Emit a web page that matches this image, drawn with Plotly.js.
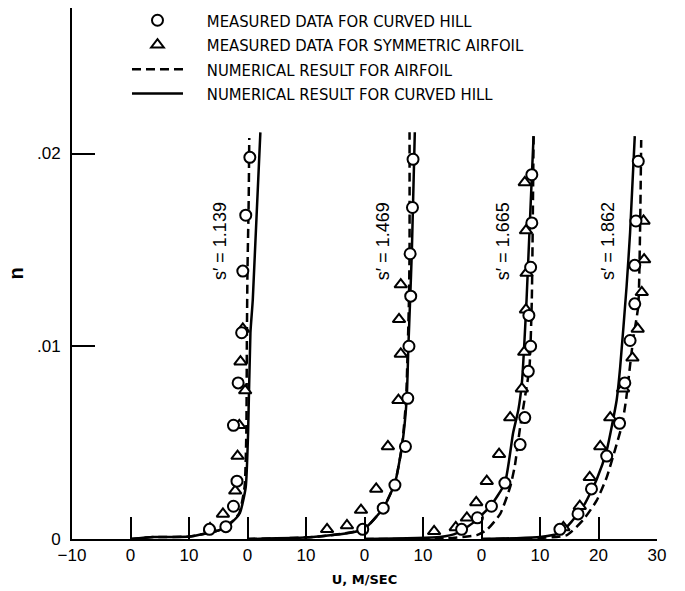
<!DOCTYPE html>
<html>
<head>
<meta charset="utf-8">
<script src="https://cdn.plot.ly/plotly-3.0.1.min.js"></script>
<style>html,body{margin:0;padding:0;background:#fff}#chart{width:685px;height:591px}</style>
</head>
<body>
<div id="chart"></div>
<script>
// ---- data (u in m/s within each profile, n) ----
const profileLabels = ["s\u2032 = 1.139", "s\u2032 = 1.469", "s\u2032 = 1.665", "s\u2032 = 1.862"];
const profileOffsets = [0, 20, 40, 60]; // each profile's u origin shifted by 20 m/s on the shared axis

const xTickVals = [-10, 0, 10, 20, 30, 40, 50, 60, 70, 80, 90];
const xTickText = ["\u221210", "0", "10", "0", "10", "0", "10", "0", "10", "20", "30"];
const yTickVals = [0, 0.01, 0.02];
const yTickText = ["0", ".01", ".02"];

// measured data for curved hill (circles)
const hillU1 = [20.4, 19.7, 19.2, 19.0, 18.4, 17.6, 18.2, 17.6, 16.3, 13.5];
const hillN1 = [0.0198, 0.0168, 0.0139, 0.0107, 0.0081, 0.0059, 0.0030, 0.0017, 0.00064, 0.0005];
const hillU2 = [28.3, 28.2, 27.8, 27.9, 27.6, 27.4, 27.0, 25.2, 23.2, 19.7];
const hillN2 = [0.0197, 0.0172, 0.0148, 0.0126, 0.0100, 0.0073, 0.0048, 0.0028, 0.0016, 0.0005];
const hillU3 = [28.6, 28.6, 28.4, 28.1, 28.4, 28.0, 27.4, 26.6, 24.0, 21.7, 19.3, 16.6];
const hillN3 = [0.0189, 0.0164, 0.0141, 0.0116, 0.0100, 0.0087, 0.0063, 0.0049, 0.0029, 0.0017, 0.0011, 0.0005];
const hillU4 = [26.8, 26.4, 26.2, 26.2, 25.4, 24.5, 23.6, 21.4, 18.8, 16.5, 13.4];
const hillN4 = [0.0196, 0.0165, 0.0142, 0.0122, 0.0103, 0.0081, 0.0060, 0.0043, 0.0026, 0.0013, 0.0005];

// measured data for symmetric airfoil (triangles)
const foilU1 = [19.2, 18.8, 19.6, 18.6, 18.3, 17.9, 15.8, 13.6];
const foilN1 = [0.0109, 0.0092, 0.0077, 0.0059, 0.0043, 0.0025, 0.0013, 0.00055];
const foilU2 = [26.2, 25.9, 26.2, 25.8, 24.0, 22.0, 19.4, 17.0, 13.6];
const foilN2 = [0.0132, 0.0114, 0.0096, 0.0072, 0.0048, 0.0026, 0.0015, 0.0007, 0.0005];
const foilU3 = [27.4, 27.6, 27.7, 27.6, 27.3, 26.9, 24.9, 23.0, 20.9, 19.1, 17.5, 15.6, 11.9];
const foilN3 = [0.0185, 0.0160, 0.0138, 0.0119, 0.0097, 0.0078, 0.0063, 0.0044, 0.0030, 0.0019, 0.0011, 0.0006, 0.0004];
const foilU4 = [27.7, 27.8, 27.4, 26.7, 25.8, 24.2, 22.0, 20.3, 18.5, 16.8, 14.0];
const foilN4 = [0.0165, 0.0145, 0.0128, 0.0109, 0.0094, 0.0078, 0.0063, 0.0048, 0.0032, 0.0017, 0.0006];

// numerical result for airfoil (dashed)
const numFoilU1 = [0, 3.9, 10.2, 15.3, 17.3, 18.6, 19.5, 19.8, 19.9, 20.0, 20.2, 20.3];
const numFoilN1 = [0, 0.0001, 0.00013, 0.00047, 0.00088, 0.00135, 0.0027, 0.0055, 0.0107, 0.0140, 0.0175, 0.0208];
const numFoilU2 = [0, 11.2, 19.8, 23.2, 25.2, 26.4, 27.1, 27.4, 27.6, 27.7, 27.7];
const numFoilN2 = [0, 0.0001, 0.0005, 0.0016, 0.0029, 0.0048, 0.0072, 0.0100, 0.0124, 0.0150, 0.0211];
const numFoilU3 = [0, 14.0, 19.2, 20.9, 23.2, 24.9, 25.7, 26.6, 27.5, 28.2, 28.6, 28.9];
const numFoilN3 = [0, 0.00003, 0.0002, 0.00047, 0.0013, 0.0027, 0.0038, 0.0058, 0.0075, 0.0089, 0.0124, 0.0209];
const numFoilU4 = [0, 8.3, 14.6, 17.4, 19.7, 21.4, 22.8, 24.0, 24.7, 25.9, 26.8, 27.1, 27.3];
const numFoilN4 = [0, 0.00003, 0.0002, 0.001, 0.002, 0.0032, 0.0046, 0.0059, 0.0072, 0.0103, 0.0121, 0.0159, 0.0207];

// numerical result for curved hill (solid)
const numHillU1 = [0, 3.9, 10.2, 15.3, 17.35, 18.7, 19.7, 20.1, 20.5, 20.9, 22.2];
const numHillN1 = [0, 0.0001, 0.00013, 0.00047, 0.00088, 0.00135, 0.0027, 0.0055, 0.0107, 0.0124, 0.0211];
const numHillU2 = [0, 11.2, 19.8, 23.2, 25.2, 26.4, 27.2, 27.5, 27.8, 28.1, 28.6];
const numHillN2 = [0, 0.0001, 0.0005, 0.0016, 0.0029, 0.0048, 0.0072, 0.0100, 0.0124, 0.0150, 0.0211];
const numHillU3 = [0, 12.9, 15.8, 18.6, 21.5, 24.0, 25.4, 26.3, 26.9, 27.7, 28.9];
const numHillN3 = [0, 0.0001, 0.0003, 0.00085, 0.0017, 0.0029, 0.0055, 0.0067, 0.0081, 0.0124, 0.0209];
const numHillU4 = [0, 6.0, 10.0, 13.4, 15.4, 17.7, 19.7, 21.4, 23.1, 23.7, 24.8, 25.4, 26.2];
const numHillN4 = [0, 0.00004, 0.0001, 0.0003, 0.0009, 0.00185, 0.0031, 0.0046, 0.0072, 0.0089, 0.0131, 0.0159, 0.0209];

const legendNames = [
  "MEASURED DATA FOR CURVED HILL",
  "MEASURED DATA FOR SYMMETRIC AIRFOIL",
  "NUMERICAL RESULT FOR AIRFOIL",
  "NUMERICAL RESULT FOR CURVED HILL"
];

// ---- build ----
const hillU = [hillU1, hillU2, hillU3, hillU4], hillN = [hillN1, hillN2, hillN3, hillN4];
const foilU = [foilU1, foilU2, foilU3, foilU4], foilN = [foilN1, foilN2, foilN3, foilN4];
const nfU = [numFoilU1, numFoilU2, numFoilU3, numFoilU4], nfN = [numFoilN1, numFoilN2, numFoilN3, numFoilN4];
const nhU = [numHillU1, numHillU2, numHillU3, numHillU4], nhN = [numHillN1, numHillN2, numHillN3, numHillN4];
const shift = (arr, k) => arr.map(v => v + profileOffsets[k]);
const pad = '    ';

const traces = [];
for (let k = 0; k < 4; k++) {
  traces.push({x: shift(nfU[k], k), y: nfN[k], mode: 'lines', name: pad + legendNames[2], legendgroup: 'nf', legendrank: 3,
    showlegend: k === 0, line: {color: '#000', width: 2.5, dash: '9px,5px', shape: 'spline', smoothing: 0.5}, hoverinfo: 'skip'});
  traces.push({x: shift(nhU[k], k), y: nhN[k], mode: 'lines', name: pad + legendNames[3], legendgroup: 'nh', legendrank: 4,
    showlegend: k === 0, line: {color: '#000', width: 2.5, shape: 'spline', smoothing: 0.5}, hoverinfo: 'skip'});
}
for (let k = 0; k < 4; k++) {
  traces.push({x: shift(foilU[k], k), y: foilN[k], mode: 'markers', name: pad + legendNames[1], legendgroup: 'mf', legendrank: 2,
    showlegend: k === 0, marker: {symbol: 'triangle-up', size: 11, color: '#fff', line: {color: '#000', width: 2}}});
  traces.push({x: shift(hillU[k], k), y: hillN[k], mode: 'markers', name: pad + legendNames[0], legendgroup: 'mh', legendrank: 1,
    showlegend: k === 0, marker: {symbol: 'circle', size: 11, color: '#fff', line: {color: '#000', width: 2}}});
}

const labelX = [15.3, 43.2, 63.7, 81.6];
const annotations = profileLabels.map((t, k) => ({
  x: labelX[k], y: 0.01546, xref: 'x', yref: 'y', text: t, showarrow: false, textangle: -90,
  font: {family: 'Liberation Sans, Arial, sans-serif', size: 18, color: '#000'}
}));

const layout = {
  width: 685, height: 591,
  margin: {l: 72, r: 28, t: 8, b: 52, autoexpand: false},
  paper_bgcolor: '#fff', plot_bgcolor: '#fff',
  showlegend: true,
  legend: {x: 0.094, y: 1.0094, xanchor: 'left', yanchor: 'top', bgcolor: 'rgba(0,0,0,0)', borderwidth: 0,
    itemwidth: 51,
    font: {family: 'Liberation Sans Narrow, DejaVu Sans Condensed, Arial Narrow, sans-serif', size: 16.5, color: '#000'},
    tracegroupgap: 0, traceorder: 'normal'},
  xaxis: {range: [-10, 90], tickvals: xTickVals, ticktext: xTickText, ticks: 'inside', ticklen: 22, tickwidth: 2,
    tickcolor: '#000', showline: true, linecolor: '#000', linewidth: 2, showgrid: false, zeroline: false,
    tickfont: {family: 'Liberation Sans, Arial, sans-serif', size: 17, color: '#000'},
    title: {text: '<b>U, M/SEC</b>', standoff: 10, font: {family: 'DejaVu Sans, sans-serif', size: 13, color: '#000'}}},
  yaxis: {range: [0, 0.02755], tickvals: yTickVals, ticktext: yTickText, ticks: 'inside', ticklen: 23, tickwidth: 2,
    tickcolor: '#000', showline: true, linecolor: '#000', linewidth: 2, showgrid: false, zeroline: false,
    ticklabelstandoff: 6,
    tickfont: {family: 'Liberation Sans, Arial, sans-serif', size: 17, color: '#000'},
    title: {text: '<b>n</b>', standoff: 8, font: {family: 'Liberation Sans, Arial, sans-serif', size: 20, color: '#000'}}},
  annotations: annotations
};

Plotly.newPlot('chart', traces, layout, {staticPlot: true, displayModeBar: false});
</script>
</body>
</html>
